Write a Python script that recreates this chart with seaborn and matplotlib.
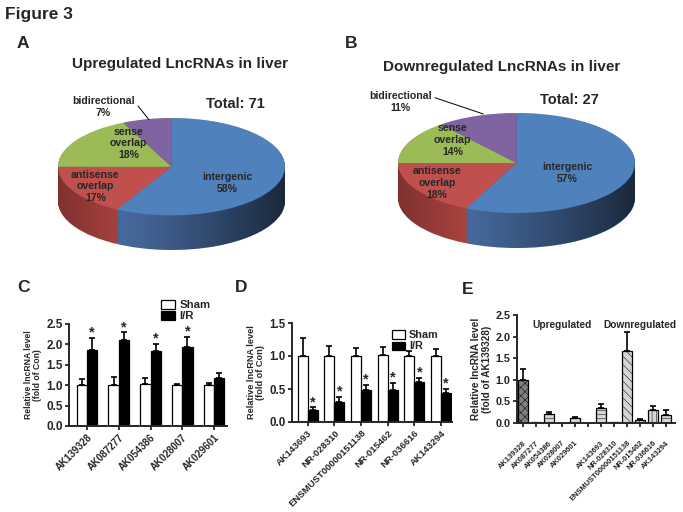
import numpy as np
import pandas as pd
import seaborn as sns
import matplotlib
matplotlib.use('Agg')
import matplotlib.pyplot as plt
from matplotlib.path import Path
from matplotlib.patches import PathPatch

# pie data (A: upregulated, B: downregulated)
pie_up = [58, 17, 18, 7]
pie_down = [57, 18, 14, 11]
pie_colors = ['#4F81BD', '#C0504D', '#9BBB59', '#8064A2']
side_colors = ['#46699c', '#a8423f', '#7f9c48', '#6a5389']

# panel C
c_genes = ['AK139328', 'AK087277', 'AK054386', 'AK028007', 'AK029601']
c_sham = [1.0, 1.0, 1.02, 1.0, 1.0]
c_sham_err = [0.14, 0.19, 0.15, 0.04, 0.06]
c_ir = [1.87, 2.12, 1.85, 1.93, 1.18]
c_ir_err = [0.29, 0.18, 0.16, 0.26, 0.11]
c_star = [True, True, True, True, False]

# panel D
d_genes = ['AK143693', 'NR-028310', 'ENSMUST00000151138', 'NR-015462', 'NR-036616', 'AK143294']
d_sham = [1.0, 1.0, 1.0, 1.02, 1.0, 1.0]
d_sham_err = [0.28, 0.15, 0.12, 0.12, 0.07, 0.11]
d_ir = [0.18, 0.30, 0.49, 0.49, 0.60, 0.44]
d_ir_err = [0.04, 0.08, 0.07, 0.10, 0.07, 0.06]

# panel E
e_genes = ['AK139328', 'AK087277', 'AK054386', 'AK028007', 'AK029601', ' ',
           'AK143693', 'NR-028310', 'ENSMUST00000151138', 'NR-015462', 'NR-036616', 'AK143294']
e_vals = [1.0, 0.02, 0.21, 0.01, 0.115, np.nan, 0.34, 0.02, 1.66, 0.07, 0.31, 0.19]
e_err = [0.25, 0.0, 0.04, 0.0, 0.025, np.nan, 0.09, 0.0, 0.44, 0.03, 0.08, 0.12]
e_hatch = ['xxxx', '----', '----', '||||', '----', '', '----', '----', '\\\\\\\\', '....', '||||', '----']

sns.set_style('ticks')
plt.rcParams['font.family'] = ['Liberation Sans', 'DejaVu Sans']
plt.rcParams['font.weight'] = 'bold'
plt.rcParams['axes.labelweight'] = 'bold'
plt.rcParams['hatch.linewidth'] = 0.35

fig = plt.figure(figsize=(6.83, 5.12), dpi=100)


def pie3d(ax, vals, depth):
    for k in np.linspace(-depth, 0, 36)[:-1]:
        ax.pie(vals, colors=side_colors, startangle=90, counterclock=False,
               center=(0, k), radius=1, wedgeprops=dict(linewidth=0))
    # shading of the rim, darker towards the right
    t = np.linspace(np.pi, 2 * np.pi, 100)
    t2 = np.linspace(0, np.pi, 100)
    verts = list(zip(np.cos(t), np.sin(t) - depth)) + list(zip(np.cos(t2), np.sin(t2)))
    clip = PathPatch(Path(verts + [verts[0]], closed=True), transform=ax.transData,
                     facecolor='none', edgecolor='none')
    ax.add_patch(clip)
    xs = np.linspace(-1, 1, 200)
    alpha = np.where(xs > -0.45, 0.62 * ((xs + 0.45) / 1.45) ** 1.2, 0.25 * (-0.45 - xs) / 0.55)
    shade = np.zeros((2, 200, 4))
    shade[:, :, 3] = alpha
    im = ax.imshow(shade, extent=[-1, 1, -depth - 1, 1], aspect='auto', interpolation='bilinear', zorder=2)
    im.set_clip_path(clip)
    ax.pie(vals, colors=pie_colors, startangle=90, counterclock=False,
           center=(0, 0), radius=1, wedgeprops=dict(linewidth=0, zorder=3))
    ax.set_aspect('auto')
    ax.set_xlim(-1, 1)
    ax.set_ylim(-1 - depth, 1)
    ax.axis('off')


fs = 7.6
axA = fig.add_axes([58 / 683, 262 / 512, 227 / 683, 132 / 512])
pie3d(axA, pie_up, 0.71)
axA.text(0.49, -0.33, 'intergenic\n%d%%' % pie_up[0], ha='center', va='center', fontsize=fs, zorder=5)
axA.text(-0.67, -0.40, 'antisense\noverlap\n%d%%' % pie_up[1], ha='center', va='center', fontsize=fs, zorder=5)
axA.text(-0.38, 0.48, 'sense\noverlap\n%d%%' % pie_up[2], ha='center', va='center', fontsize=fs, zorder=5)
axA.annotate('bidirectional\n%d%%' % pie_up[3], xy=(-0.2, 0.97), xytext=(-0.6, 1.22),
             ha='center', va='center', fontsize=fs, zorder=5,
             arrowprops=dict(arrowstyle='-', color='black', lw=0.7, shrinkA=0, shrinkB=0,
                             relpos=(1.0, 0.75)))
axA.text(0.56, 1.29, 'Total: %d' % 71, ha='center', va='center', fontsize=10.5)

axB = fig.add_axes([398 / 683, 264 / 512, 237 / 683, 135 / 512])
pie3d(axB, pie_down, 0.7)
axB.text(0.43, -0.2, 'intergenic\n%d%%' % pie_down[0], ha='center', va='center', fontsize=fs, zorder=5)
axB.text(-0.67, -0.40, 'antisense\noverlap\n%d%%' % pie_down[1], ha='center', va='center', fontsize=fs, zorder=5)
axB.text(-0.54, 0.46, 'sense\noverlap\n%d%%' % pie_down[2], ha='center', va='center', fontsize=fs, zorder=5)
axB.annotate('bidirectional\n%d%%' % pie_down[3], xy=(-0.28, 0.98), xytext=(-0.98, 1.22),
             ha='center', va='center', fontsize=fs, zorder=5,
             arrowprops=dict(arrowstyle='-', color='black', lw=0.7, shrinkA=0, shrinkB=0,
                             relpos=(1.0, 0.75)))
axB.text(0.45, 1.26, 'Total: %d' % 27, ha='center', va='center', fontsize=10.5)

fig.text(5 / 683, 1 - 14 / 512, 'Figure 3', fontsize=12.5, va='center', ha='left')
fig.text(17 / 683, 1 - 44 / 512, 'A', fontsize=12.5, va='center', ha='left')
fig.text(345 / 683, 1 - 44 / 512, 'B', fontsize=12.5, va='center', ha='left')
fig.text(180 / 683, 1 - 64 / 512, 'Upregulated LncRNAs in liver', fontsize=11, ha='center', va='center')
fig.text(502 / 683, 1 - 67 / 512, 'Downregulated LncRNAs in liver', fontsize=11, ha='center', va='center')
fig.text(17 / 683, 1 - 288 / 512, 'C', fontsize=12.5, va='center', ha='left')
fig.text(235 / 683, 1 - 288 / 512, 'D', fontsize=12.5, va='center', ha='left')
fig.text(462 / 683, 1 - 290 / 512, 'E', fontsize=12.5, va='center', ha='left')


def style_axis(ax, ymax, step, ysize, xsize, xpad=1.5):
    sns.despine(ax=ax)
    ax.set_ylim(0, ymax)
    ax.set_yticks(np.arange(0, ymax + 0.001, step))
    ax.set_yticklabels(['%.1f' % v for v in np.arange(0, ymax + 0.001, step)])
    ax.tick_params(axis='both', length=3, width=1.3, pad=1.5)
    ax.tick_params(axis='y', labelsize=ysize)
    ax.tick_params(axis='x', labelsize=xsize, pad=xpad)
    for s in ['left', 'bottom']:
        ax.spines[s].set_linewidth(1.4)
    ax.set_xlabel('')
    plt.setp(ax.get_xticklabels(), rotation=45, ha='right', rotation_mode='anchor')


def grouped(ax, genes, sham, sham_err, ir, ir_err, width, stars):
    df = pd.DataFrame({'gene': genes * 2, 'val': sham + ir,
                       'group': ['Sham'] * len(genes) + ['I/R'] * len(genes)})
    sns.barplot(data=df, x='gene', y='val', hue='group', order=genes,
                palette={'Sham': 'white', 'I/R': 'black'}, edgecolor='black',
                linewidth=0.9, width=width, errorbar=None, ax=ax, saturation=1)
    for cont, errs in zip(ax.containers, [sham_err, ir_err]):
        for i, (bar, e) in enumerate(zip(cont, errs)):
            xc = bar.get_x() + bar.get_width() / 2
            h = bar.get_height()
            ax.errorbar(xc, h, yerr=[[0], [e]], color='black', elinewidth=1.2,
                        capsize=2.5, capthick=1.2)
            if cont is ax.containers[1] and stars[i]:
                ax.text(xc, h + e - ax.get_ylim()[1] * 0.02, '*', ha='center', va='bottom', fontsize=10.5)


axC = fig.add_axes([69.3 / 683, 86 / 512, 157.7 / 683, 102 / 512])
grouped(axC, c_genes, c_sham, c_sham_err, c_ir, c_ir_err, 0.65, c_star)
style_axis(axC, 2.5, 0.5, 8.5, 7.0)
axC.set_xlim(-0.56, 4.41)
axC.set_ylabel('Relative lncRNA level\n(fold of Con)', fontsize=6.2, labelpad=3, linespacing=1.05)
axC.legend(loc='lower right', bbox_to_anchor=(0.93, 0.97), frameon=False, fontsize=8.2,
           handlelength=1.2, handleheight=0.8, handletextpad=0.4, labelspacing=0.05, borderpad=0)

axD = fig.add_axes([292 / 683, 90 / 512, 160 / 683, 99 / 512])
grouped(axD, d_genes, d_sham, d_sham_err, d_ir, d_ir_err, 0.75, [True] * 6)
style_axis(axD, 1.5, 0.5, 8.3, 6.8)
axD.set_xlim(-0.59, 5.41)
axD.set_ylabel('Relative lncRNA level\n(fold of Con)', fontsize=6.6, labelpad=3, linespacing=1.05)
axD.legend(loc='upper right', bbox_to_anchor=(0.95, 0.98), frameon=False, fontsize=7.8,
           handlelength=1.2, handleheight=0.8, handletextpad=0.4, labelspacing=0.1, borderpad=0)

axE = fig.add_axes([517 / 683, 89 / 512, 158 / 683, 108 / 512])
dfe = pd.DataFrame({'gene': e_genes, 'val': e_vals})
dfe = dfe.dropna()
sns.barplot(data=dfe, x='gene', y='val', order=e_genes, color='#d6d6d6', edgecolor='black',
            linewidth=0.9, width=0.72, errorbar=None, ax=axE, saturation=1)
bars = [b for b in axE.containers[0]]
present = [g for g in e_genes if g in list(dfe['gene'])]
for bar, g in zip(bars, present):
    i = e_genes.index(g)
    bar.set_hatch(e_hatch[i])
    if i == 0:
        bar.set_facecolor('#808080')
    if e_err[i] > 0:
        axE.errorbar(bar.get_x() + bar.get_width() / 2, bar.get_height(), yerr=[[0], [e_err[i]]],
                     color='black', elinewidth=1.2, capsize=2.2, capthick=1.2)
style_axis(axE, 2.5, 0.5, 7.8, 5.4, xpad=9)
axE.set_xlim(-0.46, 11.69)
axE.set_ylabel('Relative lncRNA level\n(fold of AK139328)', fontsize=7.2, labelpad=3, linespacing=1.05)
axE.text(3.04, 2.27, 'Upregulated', ha='center', va='center', fontsize=7.3)
axE.text(9.0, 2.27, 'Downregulated', ha='center', va='center', fontsize=7.3)

fig.savefig('out.png', dpi=100)
